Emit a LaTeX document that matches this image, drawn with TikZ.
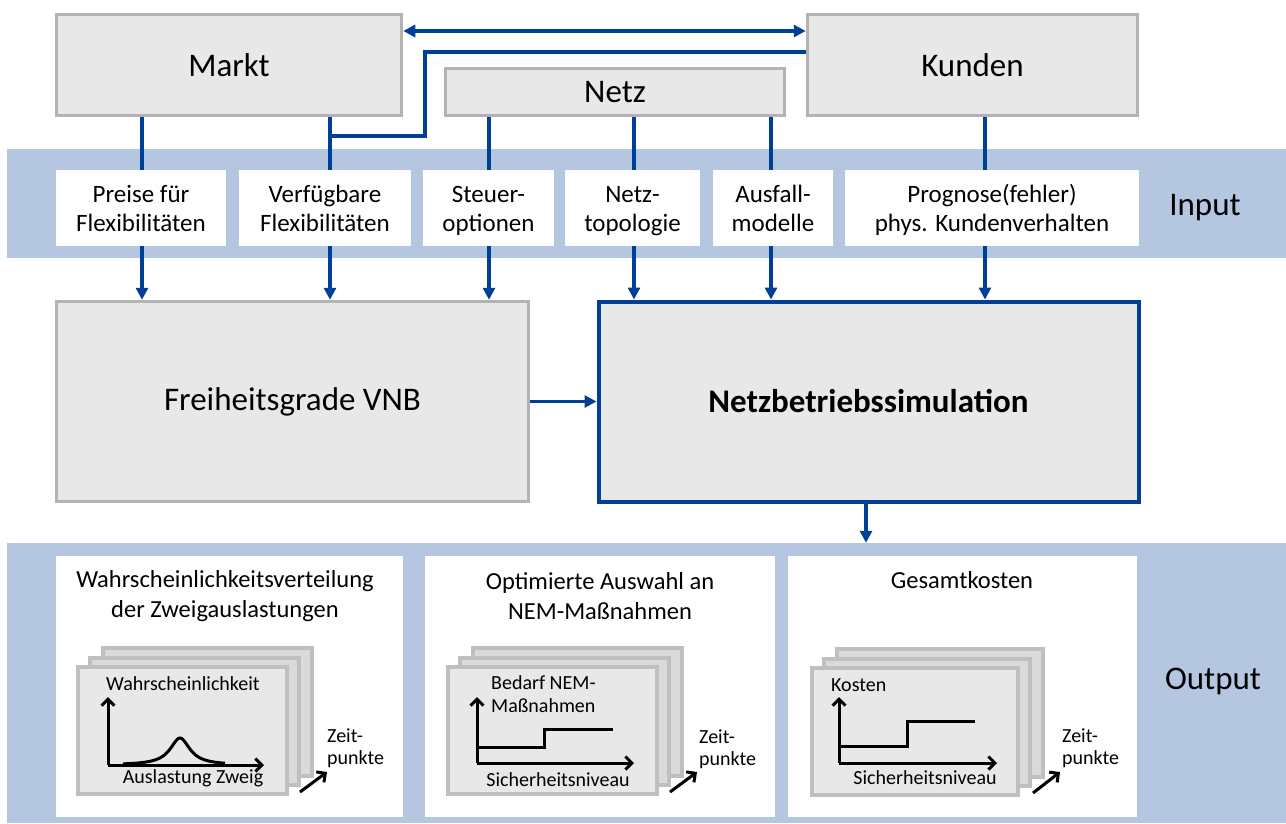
\documentclass[tikz,border=0pt]{standalone}
\usepackage{fontspec}
\setmainfont{Carlito}
\usetikzlibrary{arrows.meta,calc}
\definecolor{bandblue}{HTML}{B4C6E0}
\definecolor{lineblue}{HTML}{003F98}
\definecolor{boxgray}{HTML}{E8E8E8}
\definecolor{bordergray}{HTML}{B3B3B3}
\definecolor{cardgray}{HTML}{BFBFBF}
\definecolor{cardback}{HTML}{DADADA}
\newcommand\myTopS{\rule{0pt}{24pt}}
\newcommand\myBotS{\rule[-7pt]{0pt}{7pt}}
\begin{document}
\begin{tikzpicture}[x=1pt,y=-1pt,
  bigf/.style={font=\fontsize{33}{39}\selectfont},
  midf/.style={font=\fontsize{25}{29}\selectfont},
  ttlf/.style={font=\fontsize{24.5}{30}\selectfont},
  smallf/.style={font=\fontsize{20}{22.5}\selectfont},
  graybox/.style={draw=bordergray, fill=boxgray, line width=3.5pt, inner sep=0pt, bigf},
  simbox/.style={draw=lineblue, fill=boxgray, line width=4pt, inner sep=0pt, bigf},
  inbox/.style={fill=white, inner sep=0pt, align=center, midf, minimum height=76pt},
  outpanel/.style={fill=white, inner sep=0pt, minimum height=261pt},
  band/.style={fill=bandblue, inner sep=0pt, draw=none},
  conn/.style={draw=lineblue, line width=3.8pt},
  tip/.style={-{Triangle[width=12pt,length=12pt]}},
  axis/.style={line width=3pt, -{Straight Barb[width=13pt,length=6.5pt,line width=3pt]}},
  curve/.style={line width=3pt},
  card/.style={draw=cardgray, line width=3.3pt},
  lbl/.style={inner sep=0pt, smallf},
  ttl/.style={inner sep=0pt, ttlf, align=center}
]
\useasboundingbox (0,0) rectangle (1286,823);

% bands
\node[band, minimum width=1279pt, minimum height=109pt] (inband) at (646.5,203.5) {};
\node[band, minimum width=1279pt, minimum height=280pt] (outband) at (646.5,683) {};

% top boxes
\node[graybox, minimum width=345pt, minimum height=101pt] (markt) at (229,65) {Markt};
\node[graybox, minimum width=330pt, minimum height=101pt] (kunden) at (972.5,65) {Kunden};
\node[graybox, minimum width=339pt, minimum height=47pt] (netz) at (615,92) {Netz};

% input boxes
\node[inbox, minimum width=170pt] (inp1) at (141,208) {\myTopS Preise für\\Flexibilitäten\myBotS};
\node[inbox, minimum width=172pt] (inp2) at (325,208) {\myTopS Verfügbare\\Flexibilitäten\myBotS};
\node[inbox, minimum width=131pt] (inp3) at (488.5,208) {\myTopS Steuer-\\optionen\myBotS};
\node[inbox, minimum width=135pt] (inp4) at (632.5,208) {\myTopS Netz-\\topologie\myBotS};
\node[inbox, minimum width=120pt] (inp5) at (773,208) {\myTopS Ausfall-\\modelle\myBotS};
\node[inbox, minimum width=294pt] (inp6) at (992,208) {\myTopS Prognose(fehler)\\phys. Kundenverhalten\myBotS};
\node[inner sep=0pt, bigf] (inlabel) at (1205,208) {Input};

% middle boxes
\node[graybox, minimum width=472pt, minimum height=200pt] (frei) at (292.5,401.5) {Freiheitsgrade VNB};
\node[simbox, minimum width=540pt, minimum height=200pt] (sim) at (868.5,401.5) {\bfseries Netzbetriebssimulation};

% top connectors
\draw[conn, {Triangle[width=12pt,length=12pt]}-{Triangle[width=12pt,length=12pt]}] (markt.east |- 0,31) -- (kunden.west |- 0,31);
\draw[conn] (kunden.west |- 0,52) -| (425,136) -- (328.1,136);
\draw[conn] (markt.south -| 142,0) -- (inp1.north -| 142,0);
\draw[conn] (markt.south -| 330,0) -- (inp2.north -| 330,0);
\draw[conn] (netz.south -| 489,0) -- (inp3.north -| 489,0);
\draw[conn] (netz.south -| 634,0) -- (inp4.north -| 634,0);
\draw[conn] (netz.south -| 771,0) -- (inp5.north -| 771,0);
\draw[conn] (kunden.south -| 985,0) -- (inp6.north -| 985,0);

% input to middle
\draw[conn, tip] (inp1.south -| 142,0) -- (frei.north -| 142,0);
\draw[conn, tip] (inp2.south -| 330,0) -- (frei.north -| 330,0);
\draw[conn, tip] (inp3.south -| 489,0) -- (frei.north -| 489,0);
\draw[conn, tip] (inp4.south -| 634,0) -- (sim.north -| 634,0);
\draw[conn, tip] (inp5.south -| 771,0) -- (sim.north -| 771,0);
\draw[conn, tip] (inp6.south -| 985,0) -- (sim.north -| 985,0);
\draw[conn, tip] (frei.east) -- (sim.west);
\draw[conn, tip] (sim.south -| 866,0) -- (outband.north -| 866,0);

% output panels
\node[outpanel, minimum width=347pt] (out1) at (229.5,686.5) {};
\node[outpanel, minimum width=350pt] (out2) at (600,686.5) {};
\node[outpanel, minimum width=349pt] (out3) at (962.5,686.5) {};
\node[inner sep=0pt, bigf] (outlabel) at (1213,681) {Output};

\node[ttl] (t1) at (225,596) {Wahrscheinlichkeitsverteilung\\der Zweigauslastungen};
\node[ttl] (t2) at (600,596) {Optimierte Auswahl an\\NEM-Maßnahmen};
\node[ttl] (t3) at (962,580) {Gesamtkosten};

% cards
\foreach \fx/\fy/\bx in {78/667/287, 448/667/657, 812/668/1018}{
  \draw[card, fill=cardback] (\fx+25,\fy-19) rectangle (\bx+25,\fy+109);
  \draw[card, fill=cardback] (\fx+12,\fy-9) rectangle (\bx+12,\fy+118);
  \draw[card, fill=boxgray] (\fx,\fy) rectangle (\bx,\fy+127);
}

% panel 1 chart
\draw[axis] (108,765) -- (108,697);
\draw[axis] (108,765) -- (264,765);
\draw[curve] plot[domain=-57:45, samples=80, smooth] ({180+\x},{765-27/(1+(\x/12)^2)});
\node[lbl, anchor=west] (w1) at (106,684) {Wahrscheinlichkeit};
\node[lbl] (a1) at (193,778) {Auslastung Zweig};
\node[lbl, anchor=west, align=left] (z1) at (327,748) {Zeit-\\punkte};
\draw[axis] (300,792) -- (327,772);

% panel 2 chart
\draw[axis] (477,763) -- (477,697);
\draw[axis] (477,763) -- (634,763);
\draw[curve] (477,747) -- (544,747) -- (544,729) -- (613,729);
\node[lbl, anchor=west, align=left] (b2) at (491,694) {Bedarf NEM-\\Maßnahmen};
\node[lbl] (s2) at (558,780) {Sicherheitsniveau};
\node[lbl, anchor=west, align=left] (z2) at (699,749) {Zeit-\\punkte};
\draw[axis] (670,792) -- (697,772);

% panel 3 chart
\draw[axis] (839,763) -- (839,697);
\draw[axis] (839,763) -- (997,763);
\draw[curve] (839,746) -- (907,746) -- (907,721) -- (975,721);
\node[lbl, anchor=west] (k3) at (831,685) {Kosten};
\node[lbl] (s3) at (925,778) {Sicherheitsniveau};
\node[lbl, anchor=west, align=left] (z3) at (1062,748) {Zeit-\\punkte};
\draw[axis] (1033,793) -- (1060,772);
\end{tikzpicture}
\end{document}
